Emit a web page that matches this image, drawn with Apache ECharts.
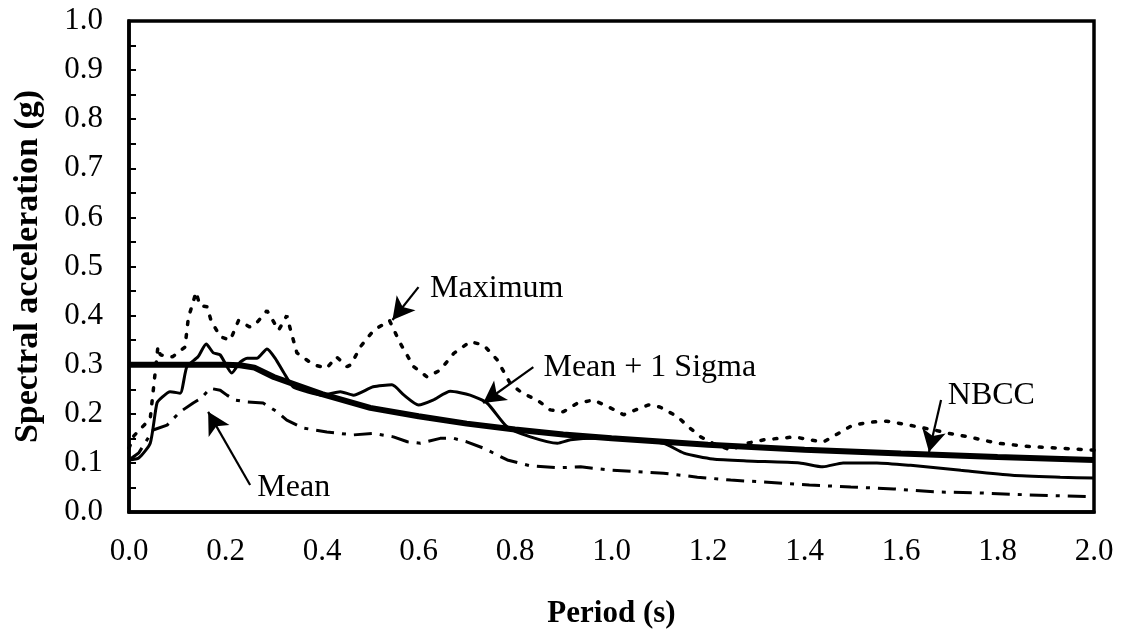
<!DOCTYPE html>
<html>
<head>
<meta charset="utf-8">
<title>Spectral acceleration</title>
<script src="https://cdn.jsdelivr.net/npm/echarts@6/dist/echarts.min.js"></script>
<style>
  html, body { margin: 0; padding: 0; background: #fff; }
  #chart { width: 1126px; height: 636px; }
</style>
</head>
<body>
<div id="chart"></div>
<script>
// values: period (s) and spectral acceleration (g)
var nbccT = [0, 0.1, 0.2, 0.23, 0.26, 0.3, 0.4, 0.5, 0.6, 0.7, 0.8, 0.9, 1.0, 1.2, 1.4, 1.6, 1.8, 2.0];
var nbccSa = [0.3, 0.3, 0.3, 0.299, 0.294, 0.275, 0.24, 0.212, 0.195, 0.18, 0.168, 0.158, 0.15, 0.137, 0.127, 0.119, 0.112, 0.106];

var maxT = [0, 0.01, 0.044, 0.06, 0.065, 0.09, 0.116, 0.123, 0.139, 0.147, 0.162, 0.17, 0.189, 0.21, 0.227, 0.25, 0.26, 0.286, 0.3, 0.31, 0.327, 0.335, 0.348, 0.382, 0.41, 0.43, 0.452, 0.46, 0.48, 0.507, 0.54, 0.562, 0.59, 0.618, 0.645, 0.673, 0.707, 0.735, 0.763, 0.79, 0.815, 0.846, 0.873, 0.9, 0.93, 0.963, 0.994, 1.025, 1.05, 1.077, 1.1, 1.137, 1.16, 1.185, 1.21, 1.247, 1.28, 1.316, 1.38, 1.41, 1.44, 1.47, 1.5, 1.537, 1.57, 1.606, 1.637, 1.668, 1.7, 1.74, 1.8, 1.87, 1.93, 2.0];
var maxSa = [0.13, 0.155, 0.19, 0.337, 0.32, 0.316, 0.336, 0.395, 0.448, 0.42, 0.418, 0.39, 0.357, 0.35, 0.39, 0.377, 0.38, 0.41, 0.387, 0.37, 0.4, 0.37, 0.324, 0.3, 0.293, 0.316, 0.296, 0.3, 0.337, 0.37, 0.39, 0.344, 0.296, 0.275, 0.289, 0.323, 0.347, 0.34, 0.31, 0.262, 0.242, 0.228, 0.208, 0.204, 0.222, 0.228, 0.214, 0.198, 0.208, 0.218, 0.214, 0.194, 0.173, 0.153, 0.14, 0.126, 0.14, 0.147, 0.153, 0.147, 0.143, 0.16, 0.177, 0.183, 0.185, 0.179, 0.173, 0.167, 0.16, 0.153, 0.14, 0.133, 0.13, 0.126];

var sigmaT = [0, 0.02, 0.044, 0.058, 0.07, 0.085, 0.106, 0.12, 0.143, 0.16, 0.175, 0.189, 0.213, 0.23, 0.245, 0.265, 0.286, 0.303, 0.32, 0.34, 0.369, 0.4, 0.438, 0.465, 0.506, 0.545, 0.57, 0.6, 0.63, 0.666, 0.707, 0.742, 0.784, 0.832, 0.888, 0.915, 0.97, 1.04, 1.108, 1.15, 1.21, 1.28, 1.39, 1.438, 1.48, 1.55, 1.62, 1.724, 1.83, 1.93, 2.0];
var sigmaSa = [0.106, 0.11, 0.14, 0.222, 0.235, 0.245, 0.242, 0.296, 0.316, 0.342, 0.324, 0.32, 0.283, 0.305, 0.313, 0.313, 0.332, 0.313, 0.285, 0.255, 0.245, 0.238, 0.245, 0.238, 0.255, 0.259, 0.238, 0.218, 0.228, 0.246, 0.238, 0.222, 0.173, 0.153, 0.14, 0.147, 0.15, 0.147, 0.14, 0.12, 0.108, 0.104, 0.1, 0.092, 0.1, 0.1, 0.095, 0.085, 0.075, 0.071, 0.069];

var meanT = [0, 0.02, 0.05, 0.079, 0.106, 0.133, 0.15, 0.168, 0.189, 0.203, 0.22, 0.245, 0.278, 0.307, 0.327, 0.361, 0.41, 0.465, 0.506, 0.548, 0.577, 0.604, 0.645, 0.673, 0.7, 0.735, 0.784, 0.832, 0.888, 0.936, 0.99, 1.054, 1.108, 1.178, 1.247, 1.316, 1.41, 1.496, 1.585, 1.668, 1.76, 1.86, 2.0];
var meanSa = [0.106, 0.12, 0.167, 0.177, 0.204, 0.222, 0.232, 0.252, 0.248, 0.238, 0.228, 0.224, 0.222, 0.204, 0.187, 0.171, 0.163, 0.157, 0.16, 0.153, 0.143, 0.14, 0.15, 0.15, 0.143, 0.13, 0.106, 0.094, 0.09, 0.092, 0.086, 0.082, 0.079, 0.071, 0.065, 0.061, 0.055, 0.051, 0.047, 0.041, 0.039, 0.035, 0.031];

// callouts: text anchor, arrow start, arrow tip (data coords)
var noteText = ['Maximum', 'Mean + 1 Sigma', 'NBCC', 'Mean'];
var noteAt = [[0.624, 0.456], [0.859, 0.295], [1.697, 0.238], [0.266, 0.049]];
var arrowFrom = [[0.6, 0.458], [0.838, 0.295], [1.683, 0.228], [0.251, 0.055]];
var arrowTo = [[0.546, 0.391], [0.734, 0.222], [1.658, 0.122], [0.164, 0.204]];

function pairs(xs, ys) {
  return xs.map(function (x, i) { return [x, ys[i]]; });
}

var serif = '"Liberation Serif", "Times New Roman", serif';

var myChart = echarts.init(document.getElementById('chart'));

var arrows = arrowFrom.map(function (p, i) {
  return [{ coord: p, symbol: 'none' }, { coord: arrowTo[i], symbol: 'arrow' }];
});

var option = {
  animation: false,
  backgroundColor: '#fff',
  grid: {
    left: 129, right: 32, top: 21, bottom: 124,
    show: true, borderColor: '#000', borderWidth: 3.5
  },
  xAxis: {
    type: 'value',
    min: 0, max: 2, interval: 0.2,
    name: 'Period (s)',
    nameLocation: 'middle',
    nameGap: 86,
    nameTextStyle: { fontFamily: serif, fontWeight: 'bold', fontSize: 31, color: '#000' },
    axisLine: { lineStyle: { color: '#000', width: 3.5 } },
    axisTick: { show: false },
    splitLine: { show: false },
    axisLabel: {
      fontFamily: serif, fontSize: 31, color: '#000', margin: 24,
      formatter: function (v) { return v.toFixed(1); }
    }
  },
  yAxis: {
    type: 'value',
    min: 0, max: 1, interval: 0.1,
    name: 'Spectral acceleration (g)',
    nameLocation: 'middle',
    nameGap: 84,
    nameTextStyle: { fontFamily: serif, fontWeight: 'bold', fontSize: 34, color: '#000' },
    axisLine: { lineStyle: { color: '#000', width: 3.5 } },
    axisTick: { inside: true, length: 7, lineStyle: { color: '#000', width: 2 } },
    minorTick: { show: true, splitNumber: 2, length: 7, lineStyle: { color: '#000', width: 2 } },
    splitLine: { show: false },
    axisLabel: {
      fontFamily: serif, fontSize: 31, color: '#000', margin: 26,
      formatter: function (v) { return v.toFixed(1); }
    }
  },
  series: [
    {
      name: 'Maximum', type: 'line', showSymbol: false,
      data: pairs(maxT, maxSa),
      lineStyle: { color: '#000', width: 3.5, type: [3, 10], cap: 'round' }
    },
    {
      name: 'Mean', type: 'line', showSymbol: false,
      data: pairs(meanT, meanSa),
      lineStyle: { color: '#000', width: 3, type: [18, 8, 4, 8] }
    },
    {
      name: 'Mean + 1 Sigma', type: 'line', showSymbol: false, smooth: 0.2,
      data: pairs(sigmaT, sigmaSa),
      lineStyle: { color: '#000', width: 3 }
    },
    {
      name: 'NBCC', type: 'line', showSymbol: false,
      data: pairs(nbccT, nbccSa),
      lineStyle: { color: '#000', width: 6 },
      markLine: {
        silent: true,
        symbolSize: [18, 22],
        label: { show: false },
        lineStyle: { color: '#000', width: 2.2, type: 'solid' },
        data: arrows
      }
    }
  ]
};
myChart.setOption(option);

// callout text placed through the chart's own coordinate system
var texts = noteText.map(function (t, i) {
  var p = myChart.convertToPixel({ gridIndex: 0 }, noteAt[i]);
  return {
    type: 'text', x: p[0], y: p[1],
    style: {
      text: t, fontFamily: serif, fontSize: 32, fill: '#000',
      align: 'left', verticalAlign: 'middle'
    }
  };
});
myChart.setOption({ graphic: texts });
</script>
</body>
</html>
